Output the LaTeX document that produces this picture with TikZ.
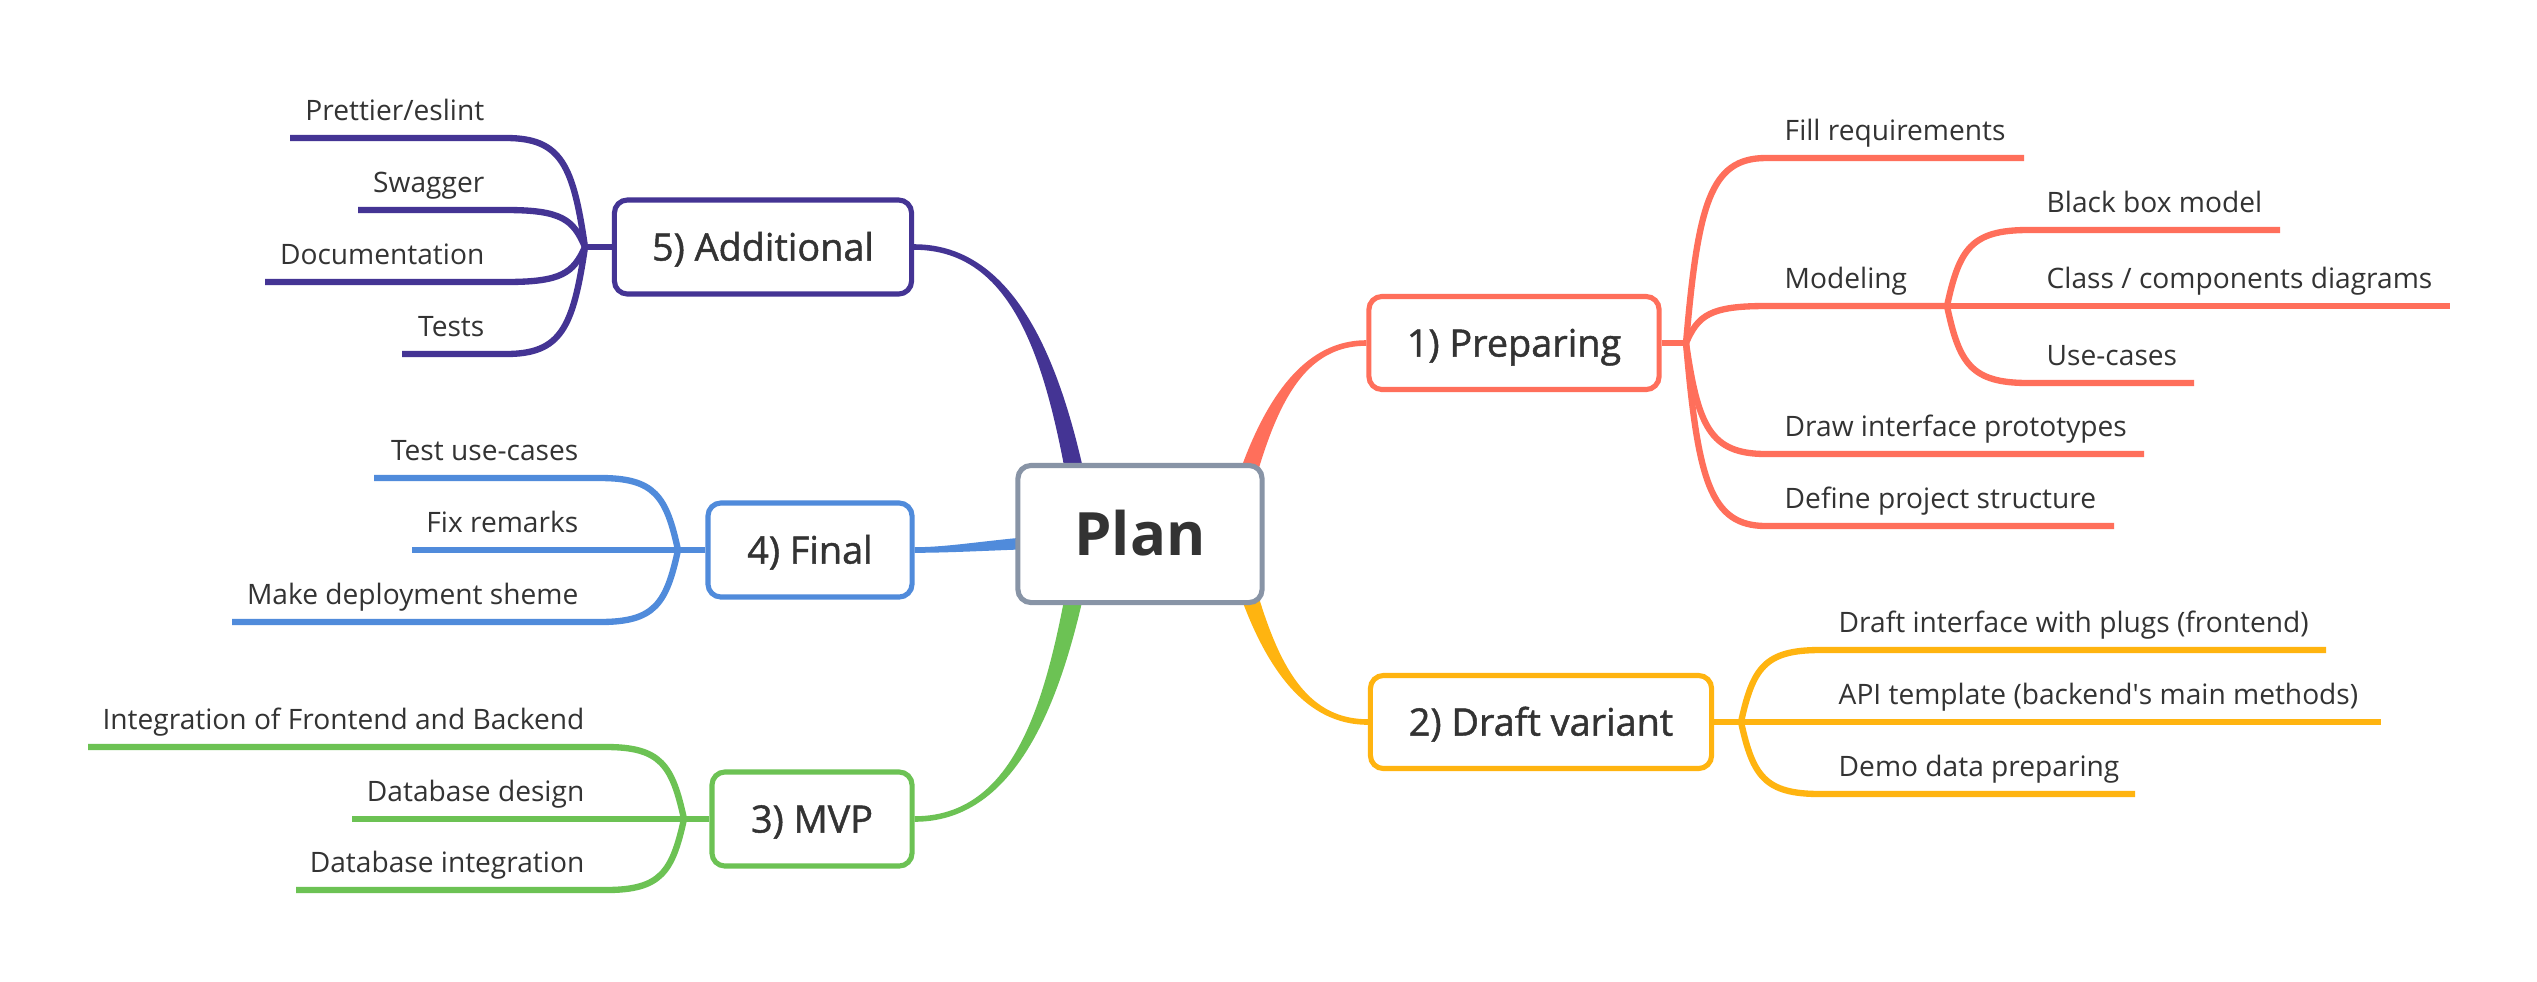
\documentclass[tikz,border=0pt]{standalone}
\usepackage{fontspec}
\setmainfont{Open Sans}
\newfontface\semib[FakeBold=1.2]{Open Sans}
\usetikzlibrary{calc,backgrounds}
\definecolor{cRed}{RGB}{255,111,91}
\definecolor{cYel}{RGB}{255,180,16}
\definecolor{cPur}{RGB}{68,52,148}
\definecolor{cBlu}{RGB}{80,139,219}
\definecolor{cGrn}{RGB}{108,194,84}
\definecolor{cGry}{RGB}{136,148,166}
\definecolor{txt}{RGB}{51,51,51}
\tikzset{
  leaf/.style={font=\fontsize{8.0}{9.5}\selectfont, text=txt, inner sep=0pt},
  branch/.style={line width=1.8pt},
  topic/.style={draw, line width=1.45pt, rounded corners=0.13cm, fill=white, text=txt,
    font=\semib\fontsize{10.75}{13}\selectfont, inner sep=0pt, text height=7.7pt, text depth=0pt},
}
% right-side leaf: name, colour, junction, line start x, line end x, line y, text
\newcommand\rleaf[7]{%
  \coordinate (#1s) at (#4,#6);
  \coordinate (#1e) at (#5,#6);
  \node[leaf, anchor=base west] (#1) at (#4+18,#6-18) {#7};
  \draw[branch,#2] let \p1=(#3), \p2=(#1s) in (#3) .. controls ({\x1+0.15*(\x2-\x1)},{\y1+0.75*(\y2-\y1)}) and ({\x1+0.3*(\x2-\x1)},\y2) .. (#1s) -- (#1e);
}
% left-side leaf: name, colour, junction, line left x, line right x, line y, text
\newcommand\lleaf[7]{%
  \coordinate (#1s) at (#5,#6);
  \coordinate (#1e) at (#4,#6);
  \node[leaf, anchor=base east] (#1) at (#5-21,#6-18) {#7};
  \draw[branch,#2] let \p1=(#3), \p2=(#1s) in (#3) .. controls ({\x1+0.15*(\x2-\x1)},{\y1+0.75*(\y2-\y1)}) and ({\x1+0.3*(\x2-\x1)},\y2) .. (#1s) -- (#1e);
}
% tapered main branch: colour, P0, C1, C2, P3, half width start, half width end
\newcommand\taper[7]{%
  \fill[#1] ($(#2)!#6!90:(#3)$) .. controls ($(#3)!#6!-90:(#2)$) and ($(#4)!#7!90:(#5)$) .. ($(#5)!#7!-90:(#4)$)
    -- ($(#5)!#7!90:(#4)$) .. controls ($(#4)!#7!-90:(#5)$) and ($(#3)!#6!90:(#2)$) .. ($(#2)!#6!-90:(#3)$) -- cycle;
}
\begin{document}
\begin{tikzpicture}[x=0.01cm,y=-0.01cm]
\useasboundingbox (0,0) rectangle (2537,981);

% central topic and main topics
\node[topic, draw=cGry, minimum width=2.44cm, minimum height=1.37cm,
      font=\bfseries\fontsize{17}{20}\selectfont, text height=12.1pt] (plan) at (1140,534) {Plan};
\node[topic, draw=cRed, minimum width=2.90cm, minimum height=0.93cm] (prep) at (1514,343) {1) Preparing};
\node[topic, draw=cYel, minimum width=3.41cm, minimum height=0.93cm] (draft) at (1541,722) {2) Draft variant};
\node[topic, draw=cPur, minimum width=2.97cm, minimum height=0.94cm] (add) at (763,247) {5) Additional};
\node[topic, draw=cBlu, minimum width=2.04cm, minimum height=0.94cm] (final) at (810,550) {4) Final};
\node[topic, draw=cGrn, minimum width=2.00cm, minimum height=0.94cm] (mvp) at (812,819) {3) MVP};

% main tapered connectors, behind the topics
\begin{scope}[on background layer]
  \fill[white] (0,0) rectangle (2537,981);
  \coordinate (p0r) at (1225,560);
  \coordinate (p0y) at (1225,506);
  \coordinate (p0p) at (1090,560);
  \coordinate (p0g) at (1090,506);
  \coordinate (p0b) at (1100,540);
  \taper{cRed}{p0r}{1255,430}{1290,343}{prep.west}{0.10cm}{0.028cm}
  \taper{cYel}{p0y}{1255,636}{1290,722}{draft.west}{0.10cm}{0.028cm}
  \taper{cPur}{p0p}{1065,400}{1030,247}{add.east}{0.10cm}{0.028cm}
  \taper{cGrn}{p0g}{1065,666}{1030,819}{mvp.east}{0.10cm}{0.028cm}
  \taper{cBlu}{p0b}{1010,542}{960,550}{final.east}{0.07cm}{0.028cm}
\end{scope}

% 1) Preparing
\coordinate (jprep) at (1686,343);
\draw[branch,cRed] (prep.east) -- (jprep);
\rleaf{fillreq}{cRed}{jprep}{1766}{2024}{158}{Fill requirements}
\rleaf{model}{cRed}{jprep}{1766}{1947}{306}{Modeling}
\rleaf{drawint}{cRed}{jprep}{1766}{2144}{454}{Draw interface prototypes}
\rleaf{defproj}{cRed}{jprep}{1766}{2114}{526}{Define project structure}
\coordinate (jmod) at (modele);
\rleaf{blackbox}{cRed}{jmod}{2028}{2280}{230}{Black box model}
\rleaf{classcomp}{cRed}{jmod}{2028}{2450}{306}{Class / components diagrams}
\rleaf{usecases}{cRed}{jmod}{2028}{2194}{383}{Use-cases}

% 2) Draft variant
\coordinate (jdraft) at (1741,722);
\draw[branch,cYel] (draft.east) -- (jdraft);
\rleaf{dint}{cYel}{jdraft}{1820}{2326}{650}{Draft interface with plugs (frontend)}
\rleaf{api}{cYel}{jdraft}{1820}{2381}{722}{API template (backend\textquotesingle s main methods)}
\rleaf{demo}{cYel}{jdraft}{1820}{2135}{794}{Demo data preparing}

% 5) Additional
\coordinate (jadd) at (585,247);
\draw[branch,cPur] (add.west) -- (jadd);
\lleaf{prettier}{cPur}{jadd}{290}{506}{138}{Prettier/eslint}
\lleaf{swagger}{cPur}{jadd}{358}{506}{210}{Swagger}
\lleaf{docs}{cPur}{jadd}{265}{506}{282}{Documentation}
\lleaf{tests}{cPur}{jadd}{402}{506}{354}{Tests}

% 4) Final
\coordinate (jfin) at (678,550);
\draw[branch,cBlu] (final.west) -- (jfin);
\lleaf{testuc}{cBlu}{jfin}{374}{600}{478}{Test use-cases}
\lleaf{fixrem}{cBlu}{jfin}{412}{600}{550}{Fix remarks}
\lleaf{deploy}{cBlu}{jfin}{232}{600}{622}{Make deployment sheme}

% 3) MVP
\coordinate (jmvp) at (684,819);
\draw[branch,cGrn] (mvp.west) -- (jmvp);
\lleaf{integ}{cGrn}{jmvp}{88}{606}{747}{Integration of Frontend and Backend}
\lleaf{dbdesign}{cGrn}{jmvp}{352}{606}{819}{Database design}
\lleaf{dbinteg}{cGrn}{jmvp}{296}{606}{890}{Database integration}
\end{tikzpicture}
\end{document}
